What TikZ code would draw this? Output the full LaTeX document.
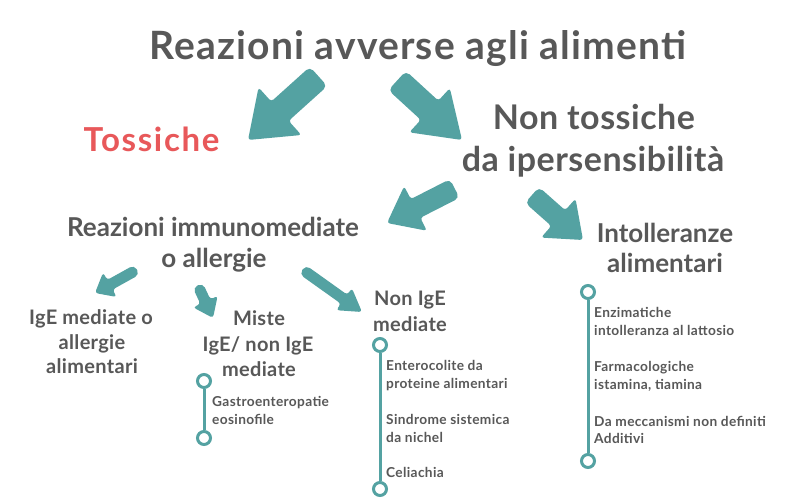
\documentclass[tikz,border=0pt]{standalone}
\usepackage{fontspec}
\setmainfont{Lato}[UprightFont=* Bold, BoldFont=* Black]
\definecolor{tealc}{RGB}{84,162,162}
\definecolor{grayt}{RGB}{88,88,88}
\definecolor{redt}{RGB}{232,88,90}
\newcommand{\fatarrow}[8]{%
  \begin{scope}[shift={(#2,#3)},rotate=#4]
    \fill[tealc,rounded corners=3pt] (0,0) -- ({-#6},{#7/2}) -- ({-#6},{#8/2})
      [rounded corners=5pt] -- ({-#5},{#8/2}) -- ({-#5},{-#8/2})
      [rounded corners=3pt] -- ({-#6},{-#8/2}) -- ({-#6},{-#7/2}) -- cycle;
    \coordinate (#1) at (0,0);
  \end{scope}}
\begin{document}
\begin{tikzpicture}[x=1pt,y=1pt,
  txt/.style={text=grayt,inner sep=0pt,anchor=base},
  big/.style={txt,font=\fontsize{39}{42}\selectfont\addfontfeatures{LetterSpace=3}},
  mid/.style={txt,font=\fontsize{34}{42}\selectfont\addfontfeatures{LetterSpace=1.5}},
  sub/.style={txt,font=\fontsize{26}{31}\selectfont},
  sml/.style={txt,font=\fontsize{20}{25}\selectfont\addfontfeatures{LetterSpace=1.5}},
  itm/.style={txt,anchor=base west,font=\fontsize{13.7}{18}\selectfont\addfontfeatures{LetterSpace=2.5}},
  ring/.style={draw=tealc,line width=3pt,fill=white,circle,minimum size=13pt,inner sep=0pt},
  stem/.style={draw=tealc,line width=3pt}]
\useasboundingbox (0,0) rectangle (800,500);
\fill[white] (0,0) rectangle (800,500);
% titles
\node[big] (title) at (418,440) {Reazioni avverse agli alimenti};
\node[txt,text=redt,font=\fontsize{33}{36}\selectfont\addfontfeatures{LetterSpace=5}] (tox) at (151.5,348) {Tossiche};
\node[mid] (nt1) at (594,370) {Non tossiche};
\node[mid] (nt2) at (593,328) {da ipersensibilità};
\node[sub] (ri1) at (213,263) {Reazioni immunomediate};
\node[sub] (ri2) at (214,232) {o allergie};
\node[sub] (in1) at (665,257) {Intolleranze};
\node[sub] (in2) at (665,227) {alimentari};
\node[sml] (ig1) at (91,175) {IgE mediate o};
\node[sml] (ig2) at (92,150) {allergie};
\node[sml] (ig3) at (92,126) {alimentari};
\node[sml] (mi1) at (259,174) {Miste};
\node[sml] (mi2) at (258,148) {IgE/ non IgE};
\node[sml] (mi3) at (259,123) {mediate};
\node[sml] (no1) at (410,194) {Non IgE};
\node[sml] (no2) at (410,168) {mediate};
% arrows
\fatarrow{a1}{248}{360}{222}{95}{43}{64}{26}
\fatarrow{a2}{462}{360}{-42.5}{88}{44}{60}{26}
\fatarrow{a3}{387}{277}{207}{76}{32}{50}{21}
\fatarrow{a4}{583}{260}{-41.5}{68}{33}{52}{21}
\fatarrow{a5}{95}{207}{209}{48}{17}{28}{11}
\fatarrow{a6}{213}{182}{-65}{36}{18}{27}{11}
\fatarrow{a7}{362}{188}{-35.5}{73}{22}{27}{11}
% Miste timeline
\node[ring] (mt) at (204,119) {};
\node[ring] (mb) at (204,62) {};
\draw[stem] (mt) -- (mb);
\node[itm] (m1) at (212,93) {Gastroenteropatie};
\node[itm] (m2) at (212,75) {eosinofile};
% Non IgE timeline
\node[ring] (nt) at (380,155) {};
\node[ring] (nb) at (380,11) {};
\draw[stem] (nt) -- (nb);
\node[itm] (n1) at (386,129) {Enterocolite da};
\node[itm] (n2) at (386,111) {proteine alimentari};
\node[itm] (n3) at (386,75) {Sindrome sistemica};
\node[itm] (n4) at (386,57) {da nichel};
\node[itm] (n5) at (386,22) {Celiachia};
% Intolleranze timeline
\node[ring] (it) at (588,208) {};
\node[ring] (ib) at (588,39) {};
\draw[stem] (it) -- (ib);
\node[itm] (i1) at (594,182) {Enzimatiche};
\node[itm] (i2) at (594,164) {intolleranza al lattosio};
\node[itm] (i3) at (594,128) {Farmacologiche};
\node[itm] (i4) at (594,110) {istamina, tiamina};
\node[itm] (i5) at (594,73) {Da meccanismi non definiti};
\node[itm] (i6) at (594,56) {Additivi};
\end{tikzpicture}
\end{document}
